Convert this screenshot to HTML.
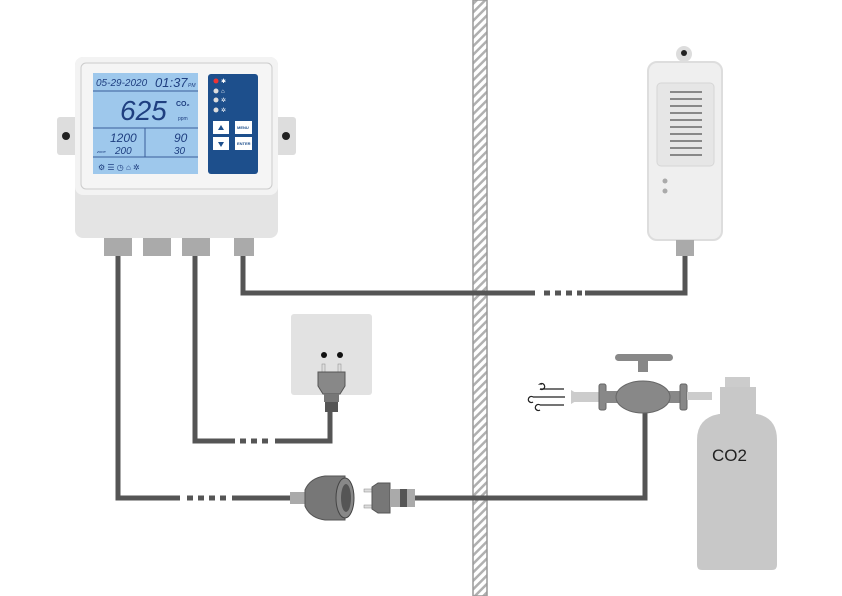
<!DOCTYPE html>
<html><head><style>body{margin:0;background:#fff}svg{display:block}</style></head><body>
<svg width="842" height="596" viewBox="0 0 842 596" xmlns="http://www.w3.org/2000/svg" font-family="Liberation Sans, sans-serif">
<defs>
<pattern id="h" width="6" height="6" patternUnits="userSpaceOnUse" patternTransform="rotate(45)">
<rect width="6" height="6" fill="#fff"/><rect width="2.5" height="6" fill="#b0b0b0"/></pattern>
</defs>
<!-- wall -->
<rect x="473" y="0" width="14" height="596" fill="url(#h)" stroke="#999" stroke-width="1.5"/>
<!-- cables -->
<g stroke="#555" stroke-width="5" fill="none">
<path d="M118 256V498H180"/><path d="M232 498H292"/>
<path d="M195 256V441H235"/><path d="M275 441H330V405"/>
<path d="M243 256V293H535"/><path d="M585 293H685V255"/>
<path d="M415 498H645V408"/>
</g>
<g stroke="#555" stroke-width="5" stroke-dasharray="6,5">
<path d="M187 498H228"/><path d="M240 441H272"/><path d="M544 293H582"/>
</g>
<!-- controller -->
<rect x="57" y="117" width="22" height="38" rx="3" fill="#ddd"/>
<rect x="274" y="117" width="22" height="38" rx="3" fill="#ddd"/>
<circle cx="66" cy="136" r="4" fill="#222"/><circle cx="286" cy="136" r="4" fill="#222"/>
<rect x="75" y="57" width="203" height="181" rx="8" fill="#e4e4e4"/>
<rect x="75" y="57" width="203" height="138" rx="8" fill="#f3f3f3"/>
<rect x="81" y="63" width="191" height="126" rx="5" fill="#f5f5f5" stroke="#ccc"/>
<rect x="93" y="73" width="105" height="101" fill="#9ec8ec"/>
<g stroke="#3a5e9a" stroke-width="1"><path d="M93 91H198M93 128H198M93 157H198M145 128V157"/></g>
<g fill="#1f3f80" font-style="italic">
<text x="96" y="86" font-size="10">05-29-2020</text>
<text x="155" y="87" font-size="13">01:37</text><text x="188" y="87" font-size="5">PM</text>
<text x="120" y="120" font-size="28">625</text>
<text x="176" y="106" font-size="7" font-style="normal" font-weight="bold">CO₂</text>
<text x="178" y="120" font-size="5" font-style="normal">ppm</text>
<text x="110" y="142" font-size="12">1200</text>
<text x="97" y="153" font-size="4">zone</text><text x="115" y="154" font-size="10">200</text>
<text x="174" y="142" font-size="12">90</text><text x="174" y="154" font-size="10">30</text>
<text x="98" y="170" font-size="8" font-style="normal">⚙ ☰ ◷      ⌂     ✲</text>
</g>
<rect x="208" y="74" width="50" height="100" rx="3" fill="#1d4f8c"/>
<circle cx="216" cy="81" r="2.5" fill="#e33"/><circle cx="216" cy="91" r="2.5" fill="#ddd"/>
<circle cx="216" cy="100" r="2.5" fill="#ddd"/><circle cx="216" cy="110" r="2.5" fill="#ddd"/>
<g fill="#fff" font-size="6"><text x="221" y="83">✱</text><text x="221" y="93">⌂</text><text x="221" y="102">✲</text><text x="221" y="112">✲</text></g>
<rect x="213" y="121" width="16" height="13" fill="#fff"/><rect x="213" y="137" width="16" height="13" fill="#fff"/>
<rect x="235" y="121" width="17" height="13" fill="#fff"/><rect x="235" y="137" width="17" height="13" fill="#fff"/>
<path d="M218 130l3-5 3 5z M218 142l3 5 3-5z" fill="#1d4f8c"/>
<g fill="#1d4f8c" font-size="4" font-weight="bold"><text x="237" y="129">MENU</text><text x="237" y="145">ENTER</text></g>
<g fill="#aaa"><rect x="104" y="238" width="28" height="18"/><rect x="143" y="238" width="28" height="18"/><rect x="182" y="238" width="28" height="18"/><rect x="234" y="238" width="20" height="18"/></g>
<!-- sensor -->
<circle cx="684" cy="54" r="8" fill="#ddd"/><circle cx="684" cy="53" r="3" fill="#222"/>
<rect x="648" y="62" width="74" height="178" rx="9" fill="#efefef" stroke="#ddd" stroke-width="2"/>
<rect x="657" y="83" width="57" height="83" rx="4" fill="#e6e6e6" stroke="#d6d6d6"/>
<g stroke="#888" stroke-width="2"><path d="M670 92H702M670 99H702M670 106H702M670 113H702M670 120H702M670 127H702M670 134H702M670 141H702M670 148H702M670 155H702"/></g>
<circle cx="665" cy="181" r="2.5" fill="#aaa"/><circle cx="665" cy="191" r="2.5" fill="#aaa"/>
<rect x="676" y="240" width="18" height="16" fill="#aaa"/>
<!-- outlet -->
<rect x="291" y="314" width="81" height="81" rx="3" fill="#e2e2e2"/>
<circle cx="324" cy="355" r="3" fill="#111"/><circle cx="340" cy="355" r="3" fill="#111"/>
<rect x="322" y="364" width="3" height="8" fill="#ddd" stroke="#888" stroke-width=".5"/><rect x="338" y="364" width="3" height="8" fill="#ddd" stroke="#888" stroke-width=".5"/>
<path d="M318 372h27v14l-5 8h-17l-5-8z" fill="#888" stroke="#555"/>
<rect x="324" y="394" width="15" height="8" fill="#777"/><rect x="325" y="402" width="13" height="10" fill="#555"/>
<!-- connector -->
<rect x="290" y="492" width="15" height="12" fill="#aaa"/>
<path d="M305 490q5-12 20-14h20v44h-20q-15-2-20-14z" fill="#777" stroke="#555"/>
<ellipse cx="345" cy="498" rx="9" ry="20" fill="#888" stroke="#444"/>
<ellipse cx="346" cy="498" rx="5" ry="14" fill="#555"/>
<rect x="364" y="489" width="8" height="3" fill="#ddd" stroke="#888" stroke-width=".5"/><rect x="364" y="505" width="8" height="3" fill="#ddd" stroke="#888" stroke-width=".5"/>
<path d="M372 487l6-4h12v30h-12l-6-4z" fill="#777" stroke="#555"/>
<rect x="390" y="489" width="25" height="18" fill="#aaa"/><rect x="400" y="489" width="7" height="18" fill="#555"/>
<!-- valve -->
<rect x="615" y="354" width="58" height="7" rx="3.5" fill="#888"/>
<rect x="638" y="360" width="10" height="12" fill="#888"/>
<rect x="573" y="392" width="28" height="10" fill="#ccc"/>
<path d="M571 390v14l5-3v-8z" fill="#ccc"/>
<rect x="599" y="384" width="7" height="26" rx="2" fill="#888" stroke="#666"/>
<rect x="605" y="391" width="80" height="12" fill="#888"/>
<ellipse cx="643" cy="397" rx="27" ry="16" fill="#888" stroke="#666"/>
<rect x="680" y="384" width="7" height="26" rx="2" fill="#888" stroke="#666"/>
<rect x="687" y="392" width="25" height="8" fill="#ccc"/>
<g stroke="#222" stroke-width="1.3" fill="none"><path d="M540 389h24M533 397h32M540 405h24"/><path d="M540 389a3 3 0 1 0 0 -5h2M533 397a3 3 0 1 0 0 5M540 405a3 3 0 1 0 0 5"/></g>
<!-- cylinder -->
<rect x="725" y="377" width="25" height="12" fill="#ccc"/>
<rect x="720" y="387" width="36" height="34" fill="#c8c8c8"/>
<path d="M697 440q0-22 22-26h38q20 4 20 26v125q0 5-5 5h-70q-5 0-5-5z" fill="#c8c8c8"/>
<text x="712" y="461" font-size="17" fill="#222">CO2</text>
</svg>
</body></html>
